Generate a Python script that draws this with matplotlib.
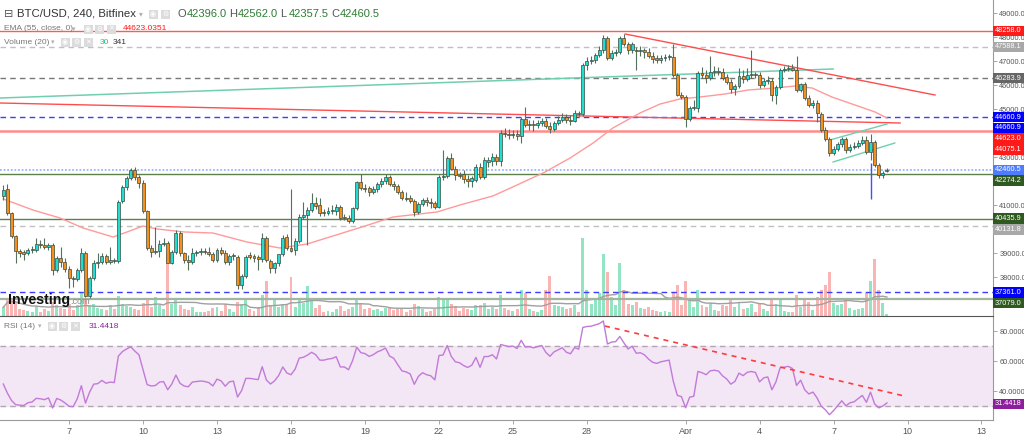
"""BTC/USD 4h chart (Bitfinex) with EMA 55, volume and RSI 14 - rebuilt as a static png."""
import numpy as np
import pandas as pd
import matplotlib
matplotlib.use("Agg")
import matplotlib.pyplot as plt
from matplotlib.patches import Rectangle

W, H = 1024, 434
SANS = ["Liberation Sans", "DejaVu Sans"]
plt.rcParams["font.family"] = SANS

# ── data: 4h candles from 2022-03-04 08:00 ────────────────────────────
START = pd.Timestamp("2022-03-04 08:00")
BAR = pd.Timedelta(hours=4)

opens = [41375, 41667, 40667, 39708, 39083, 39042, 39000, 39125, 39125, 39375, 39333, 39250,
         39333, 38292, 38792, 38625, 38333, 37958, 37917, 38292, 39000, 37208, 37958, 38583,
         38625, 38875, 38625, 38708, 38667, 41167, 41750, 42125, 42458, 42167, 41917, 40750,
         39208, 39042, 39083, 39375, 39417, 38583, 39042, 39833, 39000, 38708, 38625, 39000,
         39042, 39083, 39042, 38958, 38708, 39125, 39000, 38625, 38875, 38833, 37667, 38042,
         38917, 38875, 38833, 38750, 39625, 38667, 38375, 38583, 38958, 39667, 39208, 39125,
         39500, 40500, 40583, 40792, 41083, 41000, 40708, 40667, 40750, 40750, 40917, 40500,
         40458, 40333, 40875, 41958, 41708, 41708, 41542, 41667, 41875, 42000, 42167, 41875,
         41792, 41542, 41292, 41292, 41167, 40708, 41042, 41208, 41125, 41083, 40917, 42167,
         42208, 42958, 42500, 42250, 42292, 42083, 42000, 42042, 42583, 42167, 42792, 42833,
         43000, 42833, 44000, 43958, 43917, 43958, 43875, 44583, 44333, 44375, 44333, 44417,
         44500, 44292, 44167, 44417, 44542, 44667, 44542, 44500, 44833, 44792, 46833, 47000,
         47042, 47250, 47458, 47958, 47125, 47333, 47375, 47958, 47708, 47458, 47458, 47417,
         47458, 47375, 47208, 47125, 47042, 47125, 47167, 47167, 46417, 45583, 45500, 44583,
         45042, 45042, 46500, 46417, 46292, 46542, 46583, 46542, 46333, 46125, 45833, 45958,
         46375, 46250, 46417, 46458, 46417, 46000, 46167, 46167, 45583, 45917, 46625, 46667,
         46708, 46625, 45792, 46042, 45458, 45167, 45250, 44792, 44125, 43750, 43167, 43333,
         43542, 43750, 43292, 43417, 43458, 43583, 43708, 43208, 43625, 42667, 42250, 42396]
highs = [41833, 41875, 40708, 39750, 39167, 39125, 39208, 39292, 39625, 39542, 39625, 39417,
         39417, 38875, 39250, 38792, 38458, 38042, 38375, 39208, 39083, 38042, 38708, 39000,
         39000, 38958, 39250, 38792, 41208, 41833, 42208, 42542, 42583, 42250, 42042, 40792,
         39333, 40083, 39542, 39625, 39500, 39125, 39958, 39917, 39042, 38917, 39208, 39125,
         39208, 39208, 39250, 39042, 39208, 39250, 39125, 38958, 39000, 38917, 38125, 38917,
         39042, 38958, 38917, 39833, 39708, 38750, 38625, 38792, 39750, 39792, 41667, 39625,
         40625, 41125, 40917, 41500, 41333, 41292, 40833, 40917, 41000, 41042, 41000, 40625,
         40583, 40917, 42000, 42292, 41875, 41792, 41792, 41958, 42125, 42292, 42250, 42000,
         41875, 41625, 41542, 41417, 41250, 41125, 41292, 41333, 41292, 41167, 42250, 43292,
         43042, 43167, 42625, 42375, 42458, 42250, 42208, 42708, 42750, 43000, 43000, 43167,
         43125, 44125, 44208, 44167, 44125, 44125, 44667, 45083, 44542, 44542, 44542, 44625,
         44625, 44458, 44500, 44708, 44833, 44792, 44750, 44958, 44917, 46917, 47167, 47208,
         47333, 47625, 48083, 48042, 47458, 47500, 48042, 48125, 47792, 47792, 47583, 47625,
         47542, 47542, 47375, 47250, 47250, 47292, 47292, 47708, 46500, 45708, 45583, 45125,
         45375, 46583, 46750, 46625, 47208, 46792, 46750, 46708, 46458, 46250, 46042, 46708,
         46625, 46708, 47458, 46542, 46542, 46292, 46375, 46292, 46000, 46708, 46792, 46833,
         46875, 47208, 46083, 46125, 45583, 45375, 45375, 44875, 44250, 43833, 43458, 43625,
         43833, 43833, 43542, 43625, 43708, 43875, 43875, 43958, 43708, 42750, 42417, 42562]
lows = [41208, 40583, 39625, 38583, 38833, 38708, 38917, 39000, 39042, 39208, 39167, 39125,
        38083, 38208, 38417, 38208, 37542, 37583, 37833, 38208, 37167, 37125, 37875, 38375,
        38542, 38542, 38542, 38583, 38583, 41083, 41625, 42042, 42042, 41708, 40667, 39125,
        38833, 38958, 38833, 39292, 38625, 38542, 38958, 38875, 38583, 38292, 38542, 38875,
        38917, 38958, 38875, 38625, 38625, 38917, 38542, 38500, 38708, 37500, 37500, 37958,
        38750, 38625, 38292, 38625, 38625, 38167, 38167, 38458, 38875, 39125, 39042, 38917,
        39417, 40417, 39333, 40708, 40833, 40542, 40542, 40583, 40625, 40583, 40375, 40375,
        40250, 40250, 40792, 41625, 41542, 41375, 41458, 41542, 41750, 41875, 41792, 41625,
        41458, 41208, 41167, 41083, 40542, 40625, 40958, 40958, 40875, 40833, 40875, 42042,
        42125, 42458, 42042, 42125, 41917, 41750, 41750, 41958, 42083, 42083, 42583, 42625,
        42667, 42625, 43833, 43750, 43792, 43708, 43583, 44250, 44125, 44083, 44208, 44292,
        44208, 44000, 44083, 44333, 44458, 44417, 44333, 44458, 44708, 44708, 46625, 46875,
        46917, 47167, 47333, 47042, 47042, 47208, 47292, 47625, 47292, 47333, 46625, 47208,
        47125, 47125, 46917, 46917, 46917, 47000, 47042, 46333, 45542, 45417, 44250, 44500,
        44958, 44875, 46292, 46083, 46208, 46375, 46417, 46208, 46042, 45667, 45583, 45875,
        46083, 46167, 46292, 46292, 45875, 45917, 46042, 45333, 45208, 45833, 46542, 46583,
        46583, 45708, 45708, 45375, 45083, 45042, 44458, 44042, 43667, 43042, 43083, 43250,
        43417, 43167, 43208, 43333, 43375, 43500, 43125, 42875, 42583, 42125, 42125, 42357.5]
closes = [41625, 40667, 39708, 39083, 39000, 38958, 39125, 39167, 39375, 39333, 39250, 39333,
          38292, 38792, 38625, 38333, 37958, 37917, 38292, 39000, 37208, 37958, 38583, 38625,
          38875, 38625, 38708, 38667, 41125, 41750, 42125, 42458, 42167, 41917, 40750, 39208,
          39042, 39083, 39375, 39417, 38583, 39042, 39833, 39000, 38708, 38625, 39000, 39042,
          39083, 39042, 38958, 38708, 39125, 39000, 38625, 38875, 38917, 37667, 38042, 38833,
          38833, 38792, 38750, 39625, 38708, 38375, 38583, 38958, 39625, 39208, 39083, 39500,
          40500, 40583, 40792, 41083, 40958, 40667, 40667, 40750, 40792, 40917, 40458, 40458,
          40333, 40875, 41958, 41708, 41667, 41542, 41667, 41875, 42000, 42167, 41875, 41792,
          41542, 41292, 41250, 41167, 40708, 41042, 41208, 41125, 41083, 40917, 42167, 42208,
          42958, 42500, 42250, 42208, 42083, 42000, 42125, 42583, 42167, 42875, 42875, 43000,
          42833, 44000, 43958, 43917, 43958, 43875, 44583, 44333, 44375, 44333, 44417, 44500,
          44292, 44167, 44417, 44542, 44667, 44542, 44500, 44833, 44792, 46833, 47000, 47042,
          47250, 47458, 47958, 47125, 47333, 47375, 47958, 47708, 47458, 47708, 47417, 47458,
          47375, 47208, 47083, 47042, 47125, 47167, 47208, 46417, 45583, 45500, 44583, 45042,
          45083, 46500, 46417, 46292, 46542, 46583, 46542, 46292, 46125, 45833, 45958, 46375,
          46250, 46417, 46458, 46417, 46000, 46167, 46208, 45583, 45917, 46625, 46667, 46708,
          46625, 45792, 46042, 45458, 45167, 45250, 44833, 44125, 43750, 43167, 43333, 43542,
          43750, 43292, 43417, 43458, 43583, 43708, 43208, 43625, 42667, 42250, 42333, 42460.5]
volumes = [150, 310, 270, 240, 120, 105, 90, 75, 165, 75, 120, 90,
           240, 180, 135, 120, 210, 105, 195, 390, 300, 195, 210, 135,
           120, 105, 180, 120, 345, 210, 165, 150, 120, 105, 225, 300,
           150, 330, 180, 120, 1050, 210, 285, 180, 120, 105, 150, 75,
           60, 75, 90, 135, 150, 90, 210, 120, 75, 240, 210, 285,
           120, 90, 150, 360, 600, 180, 270, 150, 210, 180, 660, 150,
           300, 225, 510, 255, 135, 180, 75, 90, 75, 120, 165, 90,
           120, 150, 285, 210, 120, 135, 105, 120, 90, 135, 150, 105,
           120, 135, 75, 105, 210, 165, 120, 75, 90, 120, 330, 270,
           300, 210, 165, 90, 135, 120, 105, 195, 180, 225, 120, 150,
           120, 360, 135, 105, 90, 120, 450, 390, 120, 90, 75, 105,
           450, 675, 180, 165, 150, 120, 135, 180, 75, 1320, 450, 210,
           300, 390, 1050, 750, 330, 180, 900, 450, 210, 180, 240, 135,
           120, 150, 105, 90, 75, 90, 60, 390, 525, 180, 600, 300,
           150, 450, 180, 150, 225, 105, 90, 180, 165, 270, 150, 240,
           120, 135, 210, 75, 225, 120, 90, 300, 210, 270, 90, 75,
           75, 360, 150, 300, 240, 105, 330, 450, 525, 750, 225, 180,
           210, 270, 135, 105, 120, 135, 390, 600, 975, 450, 225, 30]

# EMA(55): bar offset, value
ema_bar = [0, 7.2, 13.8, 19.4, 26.7, 30.1, 34.0, 37.4, 44.2, 51.0, 59.3, 67.3, 73.9, 80.2,
           88.0, 94.8, 105.5, 111.1, 119.1, 125.0, 131.8, 137.9, 143.5, 148.3, 154.9, 159.8,
           164.6, 169.5, 175.6, 181.2, 187.8, 192.6, 196.8, 201.6, 207.2, 212.1, 215.0]
ema_val = [41250, 40792, 40458, 40042, 39667, 39875, 40125, 40000, 39875, 39833, 39458, 39208,
           39375, 39708, 40125, 40500, 40708, 41000, 41375, 41833, 42375, 42958, 43583, 44208,
           44833, 45208, 45417, 45500, 45625, 45792, 45875, 45958, 45875, 45500, 45167, 44875,
           44623]

# horizontal levels drawn on the chart
level_prices = [48258.0, 47588.1, 46283.9, 44660.9, 44075.1, 42460.5, 42274.2,
                40435.9, 40131.8, 37361.0, 37079.0]
# price-axis tags (sorted high -> low)
tag_prices = [48258.0, 47588.1, 46283.9, 44660.9, 44660.9, 44623.0, 44075.1,
              42460.5, 42274.2, 40435.9, 40131.8, 37361.0, 37079.0]
tag_colors = ["#ff1a1a", "#a8a8a8", "#666666", "#0000ff", "#0000ff", "#ff1a1a", "#ff1a1a",
              "#4f7cff", "#2f5a1f", "#2f5a1f", "#a8a8a8", "#0000ff", "#2f5a1f"]
# price-axis tick labels that are not hidden under a tag
price_ticks = [38000, 39000, 41000, 43000, 45000, 46000, 47000, 48000, 49000]

# trendlines: (bar0, price0, bar1, price1)
teal_line = (-0.8, 45458, 201.9, 46667)
red_long = (-0.8, 45250, 218.2, 44417)
red_down = (151.3, 48125, 226.7, 45583)
chan_up = (201.1, 43708, 215.0, 44375)
chan_lo = (201.9, 42792, 216.9, 43583)
spike_bar, spike_lo, spike_hi = 211, 41250, 42750
rsi_trend = (146.4, 83.3, 219.2, 36.7)
rsi_last = 31.4418
# Wilder averages (gain, loss) carried in from before the first visible bar
rsi_seed = (210.0, 260.0)

date_ticks = ["2022-03-07", "2022-03-10", "2022-03-13", "2022-03-16", "2022-03-19",
              "2022-03-22", "2022-03-25", "2022-03-28", "2022-04-01", "2022-04-04",
              "2022-04-07", "2022-04-10", "2022-04-13"]
date_labels = ["7", "10", "13", "16", "19", "22", "25", "28", "Apr", "4", "7", "10", "13"]

# ── derived series ─────────────────────────────────────────────────────
o, h, l, c = map(np.asarray, (opens, highs, lows, closes))
x = np.arange(len(c))
up = c >= o
ag, al = rsi_seed
rsi = [100 - 100 / (1 + ag / al)]
for ch in np.diff(c):
    ag = (ag * 13 + max(ch, 0)) / 14
    al = (al * 13 + max(-ch, 0)) / 14
    rsi.append(100 - 100 / (1 + ag / al))
vol_ma = pd.Series(volumes).rolling(20, min_periods=1).mean()

# ── layout (pixels) ────────────────────────────────────────────────────
PANE_R, PRICE_BOT, RSI_BOT = 993, 316, 420
P_LIM = (36375, 49542)
R_LIM = (20.7, 90)
X_LIM = (-0.8, 240.8)

fig = plt.figure(figsize=(W / 100, H / 100), dpi=100)
ax = fig.add_axes([0, 1 - PRICE_BOT / H, PANE_R / W, PRICE_BOT / H])
rax = fig.add_axes([0, 1 - RSI_BOT / H, PANE_R / W, (RSI_BOT - PRICE_BOT) / H])
vax = ax.twinx()
ax.set_zorder(vax.get_zorder() + 1)
ax.patch.set_visible(False)

UP, DOWN, EDGE, WICK = "#22dccd", "#f5901e", "#3c4a3e", "#55705f"

# volume overlay
vax.bar(x, volumes, width=0.72, color=np.where(up, "#93e4c2", "#f9b4b4"), zorder=1)
vax.plot(x, vol_ma, color="#a0a0a0", lw=1.0, zorder=2)
vax.set_ylim(0, PRICE_BOT * 17)
vax.axis("off")

# levels
styles = [("#ff5a5a", "-", 1.0), ("#c0c0c0", (0, (4, 3)), 1.0), ("#777777", (0, (4, 3)), 1.0),
          ("#3d3dff", (0, (4, 3)), 1.0), ("#ff8c8c", "-", 1.8), ("#9db4ff", (0, (1, 1)), 1.3),
          ("#5d8048", "-", 1.0), ("#5d8048", "-", 1.0), ("#c0c0c0", (0, (4, 3)), 1.0),
          ("#3d3dff", (0, (4, 3)), 1.0), ("#a3b5a0", "-", 1.6)]
for p, (col, ls, lw) in zip(level_prices, styles):
    ax.axhline(p, color=col, ls=ls, lw=lw, zorder=1)

def seg(line, **kw):
    ax.plot([line[0], line[2]], [line[1], line[3]], **kw)

seg(teal_line, color="#6fcfb0", lw=1.1, zorder=2)
seg(red_long, color="#ff4d4d", lw=1.0, zorder=2)
seg(red_down, color="#ff4d4d", lw=1.0, zorder=2)
seg(chan_up, color="#6fcfb0", lw=1.0, zorder=2)
seg(chan_lo, color="#6fcfb0", lw=1.0, zorder=2)
ax.plot(ema_bar, ema_val, color="#ff9a9a", lw=1.0, zorder=2)

# candles
ax.vlines(x, l, h, color=WICK, lw=0.8, zorder=3)
ax.vlines(spike_bar, spike_lo, spike_hi, color="#4a4aff", lw=1.0, zorder=3)
ax.bar(x, np.maximum(np.abs(c - o), 30), bottom=np.minimum(o, c), width=0.72,
       color=np.where(up, UP, DOWN), edgecolor=EDGE, linewidth=0.5, zorder=4)

ax.set_xlim(*X_LIM)
ax.set_ylim(*P_LIM)
ax.set_yticks(price_ticks)
ax.set_yticklabels([f"{v:.1f}" for v in price_ticks])
ax.yaxis.tick_right()
ax.tick_params(axis="y", length=3, width=0.6, color="#999999", labelsize=5.3,
               labelcolor="#555555", pad=1.5)
ax.set_xticks([])
for s in ("top", "left"):
    ax.spines[s].set_visible(False)
ax.spines["right"].set_color("#9a9a9a")
ax.spines["bottom"].set_color("#555555")

# RSI pane
rax.axhspan(30, 70, color="#f3e6f5", zorder=0)
for v in (30, 70):
    rax.axhline(v, color="#b3a6b3", ls=(0, (4, 3)), lw=1.0, zorder=1)
rax.plot(x, rsi, color="#c27ad8", lw=1.0, zorder=2)
rax.plot([rsi_trend[0], rsi_trend[2]], [rsi_trend[1], rsi_trend[3]], color="#ff3b3b",
         ls=(0, (3, 3)), lw=1.2, zorder=3)
rax.set_xlim(*X_LIM)
rax.set_ylim(*R_LIM)
rax.set_yticks([40, 60, 80])
rax.set_yticklabels(["40.0000", "60.0000", "80.0000"])
rax.yaxis.tick_right()
rax.tick_params(axis="y", length=3, width=0.6, color="#999999", labelsize=5.3,
                labelcolor="#555555", pad=1.5)
tick_pos = [(pd.Timestamp(t) - START) / BAR for t in date_ticks]
rax.set_xticks(tick_pos)
rax.set_xticklabels(date_labels)
rax.tick_params(axis="x", length=3, width=0.6, color="#999999", labelsize=6.5,
                labelcolor="#555555", pad=2)
for s in ("top", "left"):
    rax.spines[s].set_visible(False)
rax.spines["right"].set_color("#9a9a9a")
rax.spines["bottom"].set_color("#9a9a9a")

# ── axis tags ──────────────────────────────────────────────────────────
def tag(py, text, bg):
    fig.add_artist(Rectangle((PANE_R / W, 1 - (py + 5.3) / H), 31 / W, 10.6 / H,
                             transform=fig.transFigure, facecolor=bg, edgecolor="none",
                             zorder=5))
    fig.text((PANE_R + 15.5) / W, 1 - py / H, text, ha="center", va="center",
             fontsize=5.3, color="white", zorder=6)

prev = -99
for p, col in zip(tag_prices, tag_colors):
    py = PRICE_BOT * (P_LIM[1] - p) / (P_LIM[1] - P_LIM[0])
    py = max(py, prev + 10.7)
    prev = py
    tag(py, f"{p:.1f}", col)
tag(PRICE_BOT + (RSI_BOT - PRICE_BOT) * (R_LIM[1] - rsi_last) / (R_LIM[1] - R_LIM[0]),
    f"{rsi_last:.4f}", "#8e1f9c")

# ── legend texts ───────────────────────────────────────────────────────
def ftext(px, py, s, **kw):
    fig.text(px / W, 1 - py / H, s, va="center", zorder=6, **kw)

def icon(px, py, glyph):
    fig.add_artist(Rectangle(((px - 4.5) / W, 1 - (py + 4.5) / H), 9 / W, 9 / H,
                             transform=fig.transFigure, facecolor="#dcdcdc",
                             edgecolor="none", zorder=5))
    ftext(px, py, glyph, ha="center", fontsize=5, color="white",
          family=["DejaVu Sans"])

ftext(4, 14, "⊟", fontsize=8, color="#555555", family=["DejaVu Sans"])
ftext(17, 14, "BTC/USD, 240, Bitfinex", fontsize=8.2, color="#333333")
ftext(139, 14, "▾", fontsize=5.5, color="#b0b0b0", family=["DejaVu Sans"])
icon(153, 14, "◉")
icon(165, 14, "⚙")
ohlc = [("O", opens[-1]), ("H", highs[-1]), ("L", lows[-1]), ("C", closes[-1])]
for k, (lab, val) in enumerate(ohlc):
    ftext(178 + 51 * k, 14, lab, fontsize=8, color="#555555")
    ftext(186.5 + 51 * k, 14, f"{val:.1f}", fontsize=8, color="#2e7d32")

ftext(4, 29, "EMA (55, close, 0)", fontsize=6, color="#777777")
ftext(72, 29, "▾", fontsize=5, color="#b0b0b0", family=["DejaVu Sans"])
for k, gl in enumerate(["◉", "⚙", "✕"]):
    icon(88 + 11.5 * k, 29, gl)
ftext(123, 29, "44623.0351", fontsize=6, color="#ff1a1a")

ftext(4, 42, "Volume (20)", fontsize=6, color="#777777")
ftext(51, 42, "▾", fontsize=5, color="#b0b0b0", family=["DejaVu Sans"])
for k, gl in enumerate(["◉", "⚙", "✕"]):
    icon(65 + 11.5 * k, 42, gl)
ftext(100, 42, f"{volumes[-1]}", fontsize=6, color="#26c281")
ftext(113, 42, "341", fontsize=6, color="#333333")

ftext(4, 326, "RSI (14)", fontsize=6, color="#777777")
ftext(38, 326, "▾", fontsize=5, color="#b0b0b0", family=["DejaVu Sans"])
for k, gl in enumerate(["◉", "⚙", "✕"]):
    icon(52 + 11.5 * k, 326, gl)
ftext(89, 326, f"{rsi_last:.4f}", fontsize=6, color="#8e1f9c")

ftext(8, 300, "Investing", fontsize=10.2, fontweight="bold", color="#111111")
ftext(70, 302, ".com", fontsize=6.6, color="#8a8a8a")

fig.savefig("out.png", dpi=100, facecolor="white")
print("Saved out.png")
